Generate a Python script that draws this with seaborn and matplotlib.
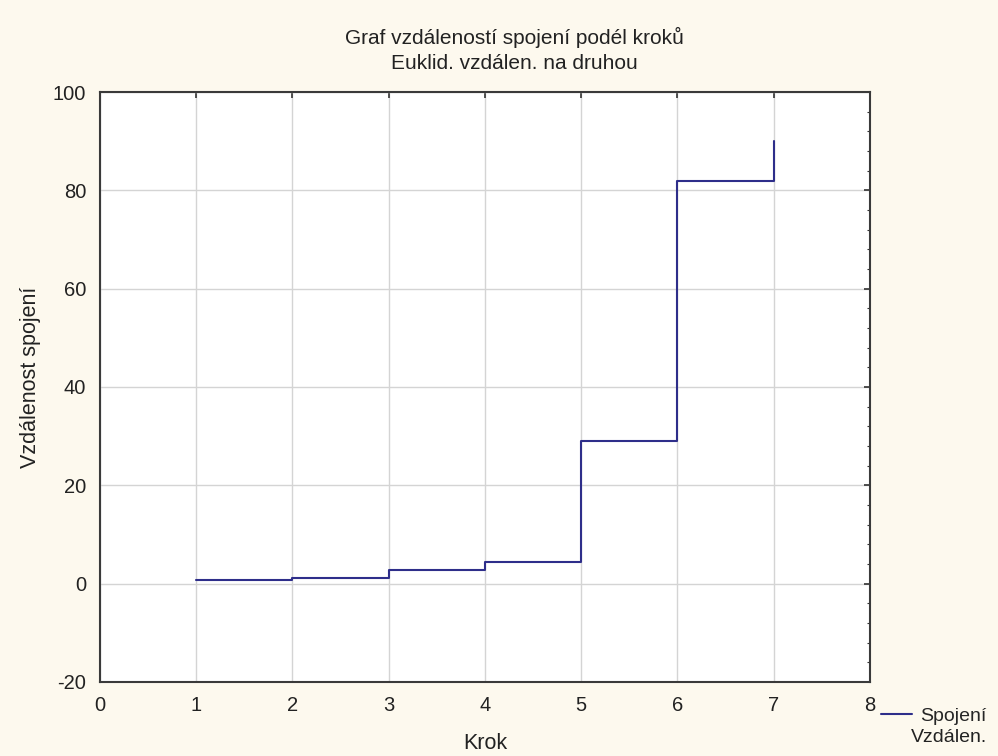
import matplotlib
matplotlib.use("Agg")
import matplotlib.pyplot as plt
import seaborn as sns
import pandas as pd
from matplotlib.ticker import MultipleLocator

# data
krok = [1, 2, 3, 4, 5, 6, 7]
vzdalenost = [0.8, 1.2, 2.8, 4.5, 29.0, 82.0, 90.0]

df = pd.DataFrame({"Krok": krok, "Vzdálenost spojení": vzdalenost})

sns.set_style("white")
plt.rcParams['font.family'] = ['Liberation Sans', 'DejaVu Sans']
plt.rcParams['axes.unicode_minus'] = False

bg = "#fdf9ee"
fig = plt.figure(figsize=(9.98, 7.56), dpi=100, facecolor=bg)
ax = fig.add_axes([0.1002, 0.0979, 0.7715, 0.7804])
ax.set_facecolor("white")

sns.lineplot(data=df, x="Krok", y="Vzdálenost spojení", ax=ax,
             drawstyle="steps-post", color="#2e2e8a", linewidth=1.5,
             label="Spojení", legend=False)

ax.set_xlim(0, 8)
ax.set_ylim(-20, 100)
ax.xaxis.set_major_locator(MultipleLocator(1))
ax.yaxis.set_major_locator(MultipleLocator(20))
ax.yaxis.set_minor_locator(MultipleLocator(4))
ax.tick_params(which="both", direction="in", top=True, right=True,
               labelsize=14.5, colors="#333333", pad=10)
ax.tick_params(which="major", length=4, width=1.2)
ax.tick_params(which="minor", length=2, width=0.8)
ax.tick_params(axis="x", which="minor", bottom=False, top=False)
for t in ax.get_xticklabels() + ax.get_yticklabels():
    t.set_color("#222222")

ax.grid(True, which="major", color="#d4d4d4", linewidth=1)
for s in ax.spines.values():
    s.set_color("#3a3a3a")
    s.set_linewidth(1.5)

ax.set_xlabel("Krok", fontsize=15.5, color="#222222", labelpad=13)
ax.set_ylabel("Vzdálenost spojení", fontsize=15.5, color="#222222")
ax.yaxis.set_label_coords(-0.076, 0.517)

fig.text(0.515, 0.951, "Graf vzdáleností spojení podél kroků", ha="center",
         va="center", fontsize=15, color="#222222")
fig.text(0.515, 0.916, "Euklid. vzdálen. na druhou", ha="center",
         va="center", fontsize=15, color="#222222")

handles, labels = ax.get_legend_handles_labels()
fig.legend(handles, labels, loc="center left", bbox_to_anchor=(0.883, 0.053),
           frameon=False, fontsize=14, handlelength=1.6, handletextpad=0.4,
           borderaxespad=0, borderpad=0)
fig.text(0.989, 0.024, "Vzdálen.", ha="right", va="center", fontsize=14,
         color="#222222")

fig.savefig("out.png", dpi=100, facecolor=bg)
